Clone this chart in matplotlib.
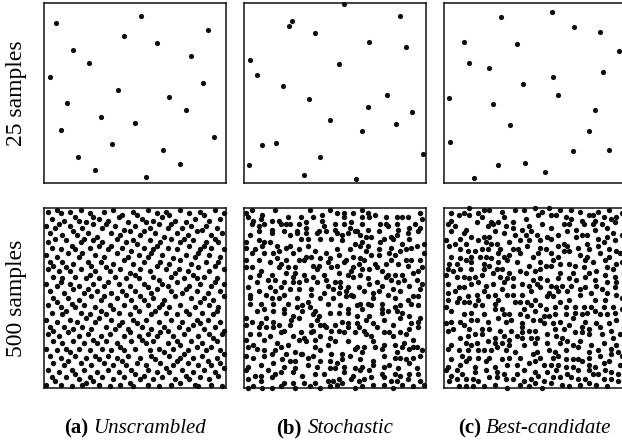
import matplotlib
matplotlib.use("Agg")
import matplotlib.pyplot as plt
from matplotlib.offsetbox import TextArea, HPacker, AnchoredOffsetbox

SERIF = ["Liberation Serif", "DejaVu Serif"]

# 25-sample sets, (u, v) in percent of the panel
UNSCR_25 = [(6.2, 88.7), (53.1, 92.6), (90.4, 85.0), (43.8, 81.3), (62.3, 77.6),
            (15.6, 73.8), (81.1, 70.2), (24.8, 66.5), (3.1, 59.0), (87.3, 55.3),
            (40.4, 51.6), (68.8, 47.9), (12.5, 44.2), (77.9, 40.5), (31.3, 36.8),
            (50.0, 33.1), (9.4, 29.4), (93.6, 25.7), (37.5, 21.8), (65.4, 18.1),
            (18.8, 14.4), (74.8, 10.7), (28.1, 7.0), (56.1, 3.3)]
STOCH_25 = [(54.8, 99.3), (85.7, 92.6), (26.1, 90.0), (24.4, 87.1), (39.0, 83.4),
            (68.9, 78.4), (89.3, 75.6), (3.1, 68.2), (52.4, 66.2), (7.2, 59.7),
            (21.1, 53.8), (78.9, 48.8), (35.7, 46.4), (68.4, 42.3), (92.3, 39.6),
            (47.1, 34.8), (83.8, 32.5), (64.9, 28.7), (17.6, 22.4), (9.9, 21.1),
            (98.3, 16.3), (41.7, 14.4), (2.4, 9.8), (32.7, 4.6), (61.6, 2.4)]
BEST_25 = [(59.4, 94.6), (31.4, 92.2), (71.9, 86.7), (86.2, 83.5), (11.0, 78.0),
           (40.3, 76.9), (96.7, 73.4), (13.6, 66.7), (25.0, 63.8), (87.7, 61.6),
           (60.1, 58.8), (43.6, 54.7), (62.7, 48.8), (2.8, 47.1), (27.0, 43.6),
           (83.3, 40.3), (36.4, 32.2), (80.1, 28.8), (3.5, 22.9), (71.3, 17.9),
           (90.8, 18.5), (29.6, 10.0), (44.5, 11.1), (55.7, 6.1), (16.5, 2.8)]

# 500-sample sets (percent of panel)
UNSCR_500 = [
    (2,98),(7,99),(9,97),(14,98),(20,99),(25,97),(27,95),(33,98),(38,99),(43,96),(49,98),(51,96),(57,99),(62,97),(67,98),(69,96),(75,99),(80,97),(86,98),(88,96),(94,99),(99,97),
    (4,94),(11,93),(17,95),(19,93),(23,92),(30,94),(35,93),(41,95),(46,92),(54,94),(56,92),(60,93),(65,95),(72,93),(78,92),(83,94),(91,93),(97,94),
    (1,90),(6,89),(8,91),(14,90),(21,89),(27,91),(32,89),(34,91),(39,90),(44,88),(50,90),(58,89),(63,91),(68,89),(70,91),(76,89),(81,90),(87,88),(89,90),(95,89),
    (3,86),(10,85),(16,87),(18,85),(24,86),(29,84),(37,86),(42,85),(47,87),(53,85),(55,87),(61,86),(66,84),(73,86),(79,85),(84,87),(92,85),(98,86),
    (2,81),(6,83),(12,82),(20,81),(22,83),(27,82),(32,81),(40,83),(45,81),(49,82),(51,80),(58,82),(64,81),(70,83),(75,81),(77,83),(82,82),(89,81),(94,83),(96,81),
    (4,78),(9,77),(15,79),(17,77),(25,78),(30,79),(35,77),(37,79),(43,78),(48,76),(55,78),(60,77),(62,79),(68,78),(73,77),(80,79),(86,77),(88,79),(92,78),(99,77),
    (1,74),(7,73),(13,75),(19,73),(21,75),(28,74),(33,73),(40,75),(46,73),(52,74),(57,73),(59,75),(65,74),(71,72),(78,74),(83,73),(85,75),(91,74),(97,73),
    (3,70),(5,68),(10,70),(16,69),(24,70),(26,68),(31,70),(38,69),(44,71),(49,69),(55,70),(62,68),(64,70),(69,69),(75,71),(81,69),(89,70),(94,68),(96,70),
    (2,66),(8,65),(12,67),(14,65),(20,66),(28,65),(34,67),(36,65),(42,66),(47,64),(53,66),(58,65),(67,66),(72,64),(74,66),(79,65),(85,67),(91,65),(99,66),
    (5,62),(10,61),(17,62),(23,61),(25,63),(30,61),(39,62),(45,61),(50,63),(52,61),(60,62),(63,60),(70,62),(77,61),(82,63),(84,61),(88,62),(95,61),
    (1,58),(7,57),(9,59),(14,58),(19,57),(27,58),(33,57),(35,59),(41,58),(47,57),(55,58),(57,56),(65,58),(68,57),(73,59),(80,57),(86,58),(92,57),(94,59),(99,58),
    (3,54),(11,53),(16,55),(22,53),(24,55),(29,54),(37,53),(43,54),(45,52),(50,54),(59,53),(62,55),(70,54),(76,53),(78,55),(84,54),(90,53),(97,54),
    (5,50),(7,48),(13,50),(19,49),(26,51),(31,49),(33,51),(40,50),(48,49),(53,51),(55,49),(60,50),(66,49),(72,51),(81,50),(86,48),(88,50),(93,49),(99,51),
    (2,46),(9,45),(15,47),(17,45),(22,46),(28,45),(36,46),(38,44),(44,46),(50,45),(57,46),(63,45),(65,47),(69,45),(75,46),(83,45),(91,46),(96,45),
    (4,42),(10,41),(12,43),(20,42),(25,41),(31,43),(34,41),(41,42),(47,41),(52,43),(59,41),(61,43),(67,42),(73,41),(78,43),(80,41),(87,42),(93,41),(95,43),
    (1,38),(7,37),(14,38),(18,37),(23,39),(28,37),(30,39),(37,38),(43,37),(49,38),(51,36),(56,38),(63,37),(70,38),(76,37),(84,38),(86,36),(90,38),(97,37),
    (3,34),(5,32),(11,34),(16,33),(21,34),(26,33),(34,34),(39,33),(41,35),(46,33),(54,34),(59,33),(66,34),(68,32),(74,34),(79,33),(82,35),(88,33),(94,34),(99,32),
    (2,30),(8,29),(13,31),(19,29),(24,30),(31,29),(36,30),(44,29),(47,31),(52,29),(57,30),(62,29),(64,31),(71,29),(77,30),(85,29),(91,30),(93,28),(98,30),
    (5,26),(10,25),(16,26),(22,25),(27,27),(29,25),(34,26),(40,25),(48,26),(54,27),(56,25),(60,26),(68,25),(73,26),(75,24),(81,26),(87,25),(95,26),
    (1,22),(7,21),(12,22),(14,20),(19,22),(25,21),(32,22),(37,21),(42,23),(44,21),(50,22),(58,21),(63,22),(66,20),(71,22),(79,21),(84,23),(89,21),(92,23),(97,21),
    (3,18),(9,17),(17,18),(23,17),(28,18),(30,16),(35,18),(40,17),(46,18),(53,17),(59,18),(61,16),(69,18),(75,17),(77,19),(82,17),(87,18),(95,17),(99,19),
    (5,14),(11,13),(13,15),(20,14),(26,13),(33,14),(38,13),(43,15),(45,13),(51,14),(56,13),(64,14),(71,13),(73,15),(79,14),(85,13),(90,15),(92,13),(97,14),
    (2,10),(8,9),(15,10),(17,8),(22,10),(29,9),(35,10),(41,9),(48,10),(50,8),(57,10),(62,9),(67,11),(69,9),(76,10),(82,9),(88,10),(94,9),(99,11),
    (4,6),(6,4),(12,6),(19,5),(25,6),(27,4),(32,6),(38,5),(44,6),(53,5),(55,7),(60,5),(65,6),(72,5),(78,7),(80,5),(86,6),(91,5),(96,7),
    (1,2),(9,2),(15,1),(21,2),(23,3),(30,2),(36,1),(42,2),(47,3),(49,1),(57,2),(63,1),(70,2),(75,3),(83,2),(85,1),(92,2),(98,1),
]
STOCH_500 = [
    (1,97),(4,99),(10,96),(17,99),(24,95),(31,95),(36,99),(43,96),(47,99),(51,97),(55,97),(60,97),(65,99),(68,97),(72,96),(78,95),(84,95),(90,95),(97,97),
    (2,95),(5,93),(9,94),(15,93),(19,93),(25,91),(30,91),(34,92),(38,95),(43,93),(50,91),(55,95),(59,92),(65,95),(69,95),(75,91),(78,91),(84,91),(87,95),(94,91),(98,94),
    (4,91),(8,90),(11,91),(15,88),(20,91),(23,91),(29,87),(34,89),(41,87),(44,90),(50,88),(55,91),(58,89),(62,87),(65,91),(68,88),(74,87),(79,90),(85,88),(91,89),(97,89),
    (3,85),(8,87),(15,86),(22,87),(25,85),(29,86),(34,86),(40,86),(45,87),(51,86),(54,85),(57,86),(61,87),(64,85),(67,84),(70,84),(77,83),(81,84),(84,85),(90,86),(96,87),
    (1,81),(8,82),(11,81),(14,81),(18,79),(25,79),(31,83),(35,83),(42,83),(48,83),(54,82),(61,80),(65,81),(68,79),(75,81),(82,83),(87,80),(91,83),(95,79),(99,80),
    (1,78),(6,77),(10,79),(16,75),(19,76),(23,78),(30,77),(35,79),(39,76),(45,75),(51,77),(58,77),(64,79),(67,76),(74,77),(81,78),(86,76),(89,77),(92,78),(99,75),
    (4,75),(11,75),(18,72),(23,71),(27,75),(30,71),(34,73),(37,73),(42,72),(47,72),(52,74),(56,71),(60,73),(64,72),(70,74),(74,74),(80,75),(83,74),(89,71),(92,71),(97,71),
    (1,71),(8,71),(14,70),(20,69),(24,67),(28,67),(33,71),(38,68),(41,68),(46,70),(51,68),(55,70),(60,67),(63,69),(66,71),(72,69),(78,69),(81,71),(85,69),(90,68),(98,67),
    (1,67),(4,67),(9,65),(15,63),(19,67),(23,64),(28,64),(33,63),(40,66),(44,63),(48,67),(52,64),(59,65),(65,66),(69,66),(73,67),(76,65),(79,63),(83,63),(87,63),(93,64),(96,65),
    (3,62),(8,63),(13,60),(17,60),(22,59),(27,62),(34,60),(38,62),(45,60),(50,59),(53,59),(57,63),(60,62),(64,63),(68,61),(73,59),(78,62),(81,60),(88,60),(95,60),
    (2,56),(7,59),(14,56),(20,56),(27,59),(30,59),(37,55),(40,59),(46,57),(53,56),(57,56),(63,56),(69,58),(76,57),(82,55),(85,59),(91,57),(98,58),
    (3,52),(8,54),(12,52),(17,54),(22,52),(25,55),(30,55),(37,52),(44,53),(49,55),(52,53),(56,54),(59,52),(66,54),(71,53),(74,54),(79,52),(86,54),(93,51),(97,55),
    (3,50),(9,47),(15,50),(19,50),(24,47),(29,50),(35,48),(42,50),(49,50),(56,51),(60,51),(64,47),(68,47),(71,50),(76,47),(83,50),(90,49),(96,51),
    (3,47),(11,44),(16,47),(22,44),(29,45),(32,46),(36,45),(39,43),(46,47),(53,46),(57,44),(62,46),(65,44),(70,46),(76,44),(83,45),(86,46),(92,47),(96,46),
    (1,39),(7,43),(12,39),(16,43),(22,42),(27,40),(32,43),(38,41),(41,40),(47,42),(52,42),(57,42),(62,40),(69,40),(76,42),(79,43),(84,43),(87,42),(91,40),(97,39),
    (4,37),(9,36),(16,37),(19,35),(26,38),(30,39),(37,35),(40,38),(44,35),(50,35),(54,37),(57,36),(62,36),(67,38),(71,36),(77,38),(82,35),(86,39),(92,36),(96,37),
    (1,35),(8,34),(12,34),(16,34),(22,32),(25,35),(31,31),(38,32),(42,35),(45,34),(48,32),(52,32),(57,34),(63,34),(66,32),(73,34),(80,31),(86,31),(91,33),(96,34),
    (3,30),(8,30),(14,29),(20,31),(27,29),(33,28),(37,31),(42,29),(47,28),(55,31),(61,31),(67,30),(70,29),(77,31),(82,29),(89,30),(93,27),
    (1,27),(5,24),(11,27),(18,25),(24,24),(30,27),(34,26),(39,27),(46,24),(50,26),(57,26),(62,23),(66,23),(71,26),(77,24),(83,24),(88,25),(93,23),
    (2,23),(7,22),(11,21),(17,21),(20,23),(23,19),(28,20),(32,19),(39,23),(42,21),(48,19),(54,19),(61,22),(65,20),(72,23),(76,22),(84,20),(87,23),(91,22),(95,23),(98,21),
    (1,18),(5,17),(11,18),(15,19),(21,16),(28,15),(31,19),(35,17),(38,18),(42,15),(47,15),(54,16),(58,18),(64,16),(71,15),(77,18),(83,17),(86,17),(89,16),(93,17),(97,18),
    (2,12),(9,13),(16,14),(22,12),(25,15),(28,11),(35,13),(40,12),(47,11),(51,14),(55,12),(61,11),(65,12),(71,13),(77,12),(80,13),(85,11),(91,14),(95,11),
    (1,10),(6,7),(9,7),(13,10),(17,8),(20,9),(27,9),(32,7),(39,8),(44,8),(50,11),(55,9),(60,7),(64,10),(69,10),(76,8),(83,8),(86,7),(91,8),(96,8),
    (2,5),(9,4),(15,6),(22,3),(27,3),(33,3),(39,3),(46,4),(49,4),(52,5),(59,5),(63,4),(66,5),(70,6),(77,6),(81,4),(84,4),(90,5),(97,4),
    (2,0),(5,1),(10,0),(15,0),(20,1),(28,0),(36,1),(42,0),(47,1),(51,2),(54,3),(61,0),(65,1),(71,2),(77,2),(82,0),(87,2),(93,1),(99,2),
]
BEST_500 = [
    (4,97),(11,97),(14,100),(19,97),(22,99),(25,99),(32,98),(39,99),(44,99),(50,100),(54,98),(58,100),(64,99),(70,99),(75,98),(82,96),(85,98),(91,99),(98,97),
    (4,93),(8,96),(14,96),(21,95),(26,92),(30,92),(33,95),(38,92),(45,94),(52,96),(59,96),(62,96),(67,95),(70,94),(76,93),(80,96),(83,93),(88,95),(92,94),(95,95),
    (2,91),(6,90),(12,88),(18,92),(24,90),(27,91),(34,90),(38,89),(43,88),(47,90),(54,91),(59,89),(66,91),(69,91),(73,88),(77,91),(82,91),(87,91),(90,89),(94,92),(99,88),
    (4,87),(11,86),(15,84),(22,84),(25,84),(28,87),(33,86),(39,85),(45,85),(48,87),(51,85),(57,84),(63,85),(68,87),(76,85),(79,85),(83,88),(90,84),(93,86),(98,85),
    (1,82),(6,80),(9,83),(19,82),(23,81),(26,80),(29,80),(36,81),(42,82),(47,82),(53,82),(59,83),(66,80),(73,84),(79,80),(85,83),(88,81),(94,82),
    (3,79),(9,77),(12,80),(17,76),(21,77),(24,77),(31,77),(38,77),(41,77),(46,79),(53,78),(56,77),(63,79),(68,79),(74,78),(80,77),(85,79),(91,77),(95,76),
    (4,73),(9,72),(13,76),(15,73),(20,73),(23,73),(30,75),(33,73),(36,74),(42,75),(49,73),(52,75),(59,75),(63,73),(66,76),(69,76),(75,74),(79,73),(86,75),(91,73),(97,75),
    (3,69),(7,69),(12,71),(15,70),(22,69),(26,72),(30,70),(35,71),(40,70),(47,68),(53,70),(56,68),(60,71),(64,69),(69,69),(72,68),(78,71),(82,70),(89,71),(95,69),(98,70),
    (2,66),(5,65),(9,66),(15,66),(22,66),(25,68),(29,66),(32,66),(36,64),(42,65),(50,65),(53,66),(59,68),(64,64),(71,64),(77,67),(80,64),(84,65),(90,67),(93,66),(99,64),
    (1,63),(7,62),(11,62),(14,61),(17,62),(21,63),(27,64),(31,62),(35,61),(38,61),(45,64),(49,60),(53,61),(57,60),(63,61),(69,61),(73,60),(78,62),(83,60),(89,63),(94,62),
    (2,58),(8,56),(15,58),(19,59),(23,57),(27,58),(33,59),(38,57),(43,58),(47,57),(51,58),(59,57),(62,56),(65,57),(70,57),(78,56),(84,57),(90,59),(95,59),
    (2,53),(6,54),(11,56),(18,52),(22,54),(28,52),(32,55),(38,52),(43,52),(48,54),(53,56),(58,53),(63,54),(68,54),(75,55),(81,53),(87,55),(90,53),(94,56),
    (2,49),(8,50),(13,51),(19,49),(24,51),(30,49),(35,52),(42,48),(46,48),(50,49),(57,51),(60,51),(64,48),(69,49),(75,52),(83,49),(89,49),(95,52),(98,50),
    (1,45),(7,48),(11,48),(14,48),(17,46),(21,46),(28,47),(32,44),(39,48),(44,44),(48,46),(53,46),(56,44),(61,45),(67,45),(72,45),(77,45),(81,45),(88,45),(93,45),(98,44),
    (4,43),(11,41),(15,42),(22,41),(28,44),(33,41),(36,41),(42,41),(46,40),(50,43),(55,40),(58,40),(61,41),(67,41),(72,42),(76,41),(79,42),(83,43),(86,41),(90,41),(94,42),
    (4,37),(9,37),(15,38),(18,38),(24,37),(30,39),(34,37),(37,38),(43,36),(49,38),(53,38),(60,36),(64,37),(71,39),(78,37),(84,36),(91,36),(95,38),
    (1,36),(5,33),(11,35),(14,33),(21,33),(25,33),(31,32),(37,32),(43,34),(47,32),(50,32),(55,36),(61,33),(66,33),(69,35),(76,34),(80,33),(86,34),(92,32),(99,34),
    (2,32),(9,28),(13,29),(17,30),(21,30),(28,28),(33,29),(40,29),(43,31),(48,28),(51,28),(57,30),(62,29),(65,28),(72,31),(76,31),(80,30),(87,30),(93,28),(97,30),
    (4,24),(12,25),(15,24),(18,25),(24,26),(28,25),(32,25),(36,27),(43,28),(50,25),(57,25),(64,25),(68,26),(75,26),(81,24),(88,25),(95,24),(99,24),
    (2,22),(8,21),(13,21),(19,21),(22,21),(26,21),(29,23),(34,21),(36,24),(39,20),(44,24),(51,20),(58,21),(61,20),(67,21),(71,24),(74,23),(80,20),(85,21),(92,22),(96,20),
    (4,16),(10,18),(14,17),(19,17),(25,17),(32,16),(36,17),(42,17),(49,19),(53,17),(60,17),(63,18),(67,16),(71,16),(74,16),(80,17),(86,18),(92,19),(98,18),
    (2,12),(9,13),(12,15),(17,12),(23,15),(28,12),(35,13),(40,13),(47,14),(50,15),(55,13),(59,13),(63,13),(67,12),(71,12),(76,15),(80,13),(88,14),(91,15),(97,13),
    (1,10),(7,10),(10,8),(17,9),(23,10),(29,9),(33,8),(40,8),(44,10),(50,9),(57,9),(62,10),(68,8),(74,10),(80,10),(83,12),(89,10),(92,9),(99,8),
    (4,7),(7,5),(12,5),(16,5),(19,4),(25,6),(29,6),(34,5),(38,5),(44,4),(48,5),(52,7),(55,4),(60,6),(64,6),(70,6),(74,5),(78,5),(82,8),(85,8),(88,5),(92,5),(96,8),
    (3,4),(8,1),(12,1),(16,1),(22,1),(28,2),(35,0),(42,2),(47,1),(50,3),(54,0),(59,3),(65,2),(69,1),(75,2),(80,3),(84,2),(90,1),(96,4),(99,4),
]

ROW_LABELS = ["25 samples", "500 samples"]
CAPTION_TAGS = ["(a)", "(b)", "(c)"]
CAPTION_NAMES = ["Unscrambled", "Stochastic", "Best-candidate"]

W, H = 622, 442
fig = plt.figure(figsize=(W / 100, H / 100), dpi=100)

COL_LEFT = [44.3, 244.3, 444.0]   # px
ROW_TOP = [2.7, 208.0]            # px
PANEL_W, PANEL_H = 181.4, 180.3

grid = [[UNSCR_25, STOCH_25, BEST_25], [UNSCR_500, STOCH_500, BEST_500]]
dot_size = [14, 15]

for r in range(2):
    for c in range(3):
        ax = fig.add_axes([COL_LEFT[c] / W, 1 - (ROW_TOP[r] + PANEL_H) / H,
                           PANEL_W / W, PANEL_H / H])
        pts = grid[r][c]
        xs = [p[0] / 100 for p in pts]
        ys = [p[1] / 100 for p in pts]
        ax.scatter(xs, ys, s=dot_size[r], color="#0d0d0d", linewidths=0,
                   clip_on=False, zorder=3)
        ax.set_xlim(0, 1)
        ax.set_ylim(0, 1)
        ax.set_xticks([])
        ax.set_yticks([])
        for sp in ax.spines.values():
            sp.set_linewidth(1.1)
            sp.set_color("#111111")

for r, lab in enumerate(ROW_LABELS):
    yc = 1 - (ROW_TOP[r] + PANEL_H / 2) / H
    fig.text(17 / W, yc, lab, rotation=90, ha="center", va="center",
             fontsize=17, family=SERIF)

for c in range(3):
    cx = (COL_LEFT[c] + PANEL_W / 2) / W
    box = HPacker(children=[
        TextArea(CAPTION_TAGS[c], textprops=dict(fontsize=15, weight="bold", family=SERIF)),
        TextArea(CAPTION_NAMES[c], textprops=dict(fontsize=15, style="italic", family=SERIF)),
    ], align="baseline", pad=0, sep=4)
    anc = AnchoredOffsetbox(loc="center", child=box, pad=0, borderpad=0, frameon=False,
                            bbox_to_anchor=(cx, 1 - 428 / H),
                            bbox_transform=fig.transFigure)
    fig.add_artist(anc)

fig.savefig("out.png", dpi=100)
